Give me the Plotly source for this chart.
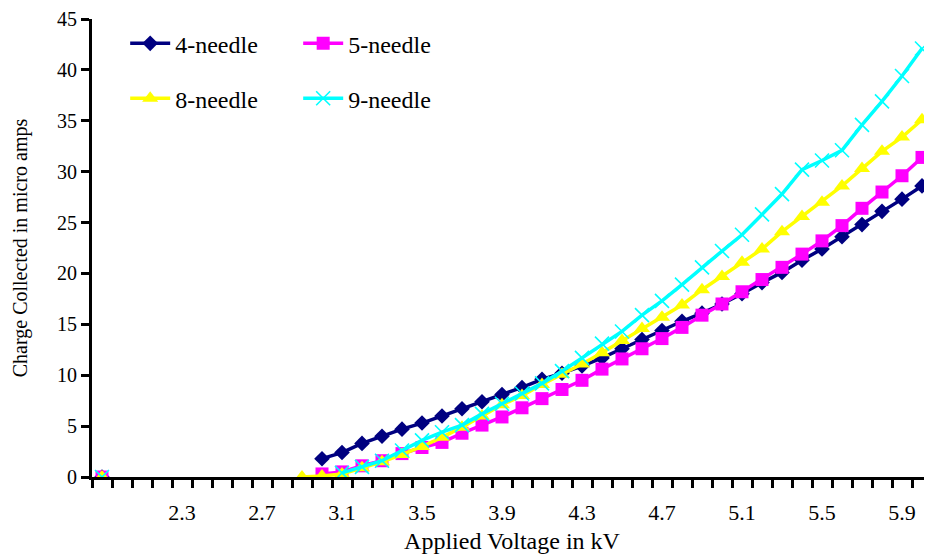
import plotly.graph_objects as go

voltage = [1.9, 2.0, 2.1, 2.2, 2.3, 2.4, 2.5, 2.6, 2.7, 2.8, 2.9,
           3.0, 3.1, 3.2, 3.3, 3.4, 3.5, 3.6, 3.7, 3.8, 3.9,
           4.0, 4.1, 4.2, 4.3, 4.4, 4.5, 4.6, 4.7, 4.8, 4.9,
           5.0, 5.1, 5.2, 5.3, 5.4, 5.5, 5.6, 5.7, 5.8, 5.9, 6.0]

gap = [None] * 9  # 2.0 .. 2.8 : no readings

needle4 = [0] + gap + [None,
           1.8, 2.4, 3.3, 4.0, 4.7, 5.3, 6.0, 6.7, 7.4, 8.1,
           8.8, 9.6, 10.2, 10.9, 11.7, 12.6, 13.5, 14.4, 15.3, 16.1,
           17.0, 18.0, 19.1, 20.1, 21.3, 22.4, 23.6, 24.8, 26.1, 27.3, 28.6]
needle5 = [0] + gap + [None,
           0.3, 0.5, 1.1, 1.6, 2.3, 2.9, 3.4, 4.3, 5.1, 5.9,
           6.8, 7.7, 8.6, 9.5, 10.6, 11.6, 12.6, 13.6, 14.7, 15.9,
           17.0, 18.2, 19.4, 20.6, 21.9, 23.2, 24.7, 26.4, 28.0, 29.6, 31.4]
needle8 = [0] + gap + [0,
           0.1, 0.3, 0.9, 1.5, 2.2, 3.0, 3.9, 4.9, 6.0, 7.1,
           8.0, 9.1, 10.1, 11.1, 12.2, 13.4, 14.6, 15.7, 16.9, 18.4,
           19.7, 21.1, 22.4, 24.1, 25.6, 27.0, 28.6, 30.3, 32.0, 33.4, 35.1]
needle9 = [0] + gap + [None,
           None, 0.4, 1.0, 1.6, 2.6, 3.6, 4.4, 5.1, 6.2, 7.2,
           8.2, 9.2, 10.4, 11.7, 13.1, 14.3, 15.9, 17.3, 18.9, 20.6,
           22.2, 23.8, 25.8, 27.8, 30.2, 31.1, 32.1, 34.6, 36.9, 39.4, 42.1]

x_labels = [2.3, 2.7, 3.1, 3.5, 3.9, 4.3, 4.7, 5.1, 5.5, 5.9]
y_ticks = [0, 5, 10, 15, 20, 25, 30, 35, 40, 45]

FONT = "Liberation Serif, Times New Roman, serif"

series = [
    ("4-needle", needle4, "#000080", "diamond", 12, 0, "legend"),
    ("5-needle", needle5, "#FF00FF", "square", 13, 0, "legend"),
    ("8-needle", needle8, "#FFFF00", "triangle-up", 14, 0, "legend2"),
    ("9-needle", needle9, "#00FFFF", "x-thin", 14, 1.6, "legend2"),
]

fig = go.Figure()
for name, vals, color, sym, size, lw, leg in series:
    fig.add_trace(go.Scatter(
        x=voltage, y=vals, name=name, mode="lines+markers",
        line=dict(color=color, width=3.5),
        marker=dict(symbol=sym, size=size, color=color,
                    line=dict(color=color, width=lw)),
        connectgaps=False, legend=leg,
    ))

legend_common = dict(
    orientation="h", xanchor="left", yanchor="middle",
    font=dict(family=FONT, size=24, color="black"),
    bgcolor="rgba(0,0,0,0)", entrywidth=118, entrywidthmode="pixels",
    itemwidth=40,
)

fig.update_layout(
    width=924, height=551,
    margin=dict(l=84, r=0, t=6, b=82),
    paper_bgcolor="white", plot_bgcolor="white",
    font=dict(family=FONT, color="black"),
    legend=dict(x=0.0395, y=0.946, **legend_common),
    legend2=dict(x=0.0395, y=0.826, **legend_common),
    xaxis=dict(
        range=[1.85, 6.05], showgrid=False, zeroline=False,
        showline=True, linecolor="black", linewidth=3,
        tickvals=x_labels, ticktext=[f"{v:.1f}" for v in x_labels],
        ticks="outside", ticklen=14, tickcolor="rgba(0,0,0,0)",
        tickfont=dict(family=FONT, size=22, color="black"),
        ticklabeloverflow="allow",
        minor=dict(ticks="outside", ticklen=8, tickwidth=3,
                   tickcolor="black", tick0=1.85, dtick=0.1, showgrid=False),
        title=dict(text="Applied Voltage in kV",
                   font=dict(family=FONT, size=24, color="black"),
                   standoff=8),
    ),
    yaxis=dict(
        range=[0, 45], showgrid=False, zeroline=False,
        showline=True, linecolor="black", linewidth=3,
        tickvals=y_ticks, ticks="outside", ticklen=8, tickwidth=3,
        tickcolor="black", ticklabeloverflow="allow",
        tickfont=dict(family=FONT, size=20, color="black"),
        title=dict(text="Charge Collected in micro amps",
                   font=dict(family=FONT, size=20, color="black"),
                   standoff=25),
    ),
)

fig.write_html("out.html")
